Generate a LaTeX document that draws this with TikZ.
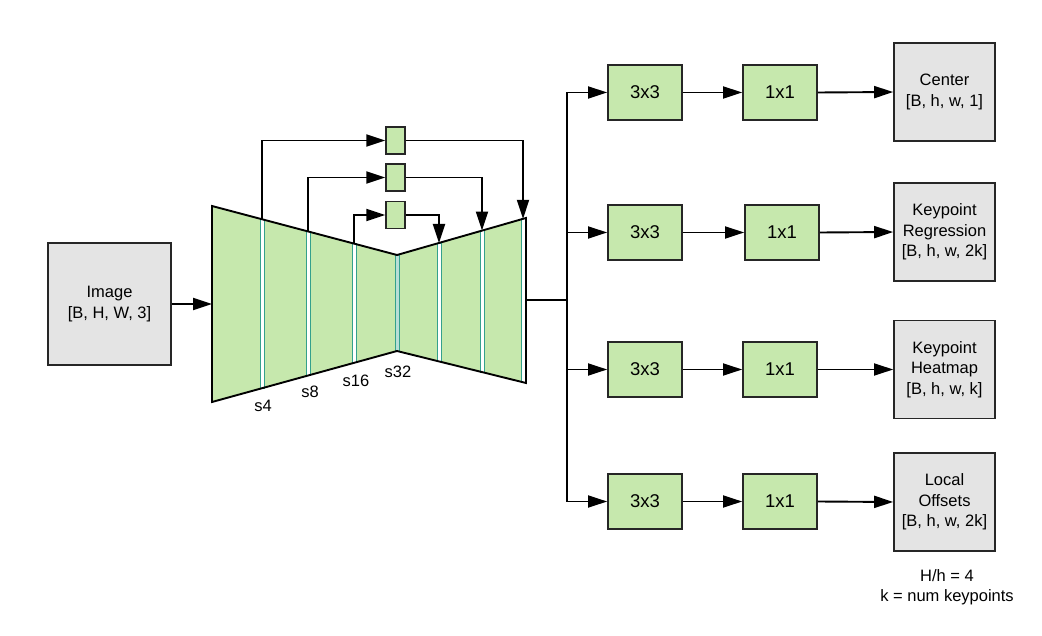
\documentclass[tikz,border=0pt]{standalone}
\usepackage{fontspec}
\setmainfont{Liberation Sans}
\usetikzlibrary{arrows.meta}
\definecolor{boxgreen}{RGB}{198,232,173}
\definecolor{boxgray}{RGB}{228,228,228}
\definecolor{barteal}{RGB}{52,160,140}
\begin{document}
\begin{tikzpicture}[x=1pt,y=-1pt,
  txt/.style={font=\fontsize{16.5}{20.5}\selectfont,align=center},
  gbox/.style={draw=black!85,line width=1.7pt,fill=boxgreen,minimum width=74pt,minimum height=55pt,inner sep=0pt,font=\fontsize{18.5}{22}\selectfont},
  sbox/.style={draw=black!85,line width=1.4pt,fill=boxgreen,minimum width=19pt,minimum height=27pt,inner sep=0pt},
  obox/.style={draw=black!85,line width=1.7pt,fill=boxgray,minimum width=101pt,minimum height=98pt,inner sep=0pt,txt},
  conn/.style={line width=1.9pt,-{Triangle[length=19pt,width=12pt]}},
  plain/.style={line width=1.9pt},
  bar/.style={draw=barteal,line width=0.9pt,fill=white},
  slab/.style={font=\fontsize{16.5}{20}\selectfont,inner sep=0pt}]
\useasboundingbox (0,0) rectangle (1042,636);

% image
\node[obox,minimum width=123pt,minimum height=122pt] (img) at (109.5,304) {Image\\{[B, H, W, 3]}};

% encoder-decoder body
\fill[boxgreen] (212,206) -- (397,255) -- (526,218) -- (526,383) -- (397,351) -- (212,402) -- cycle;
% bars
\draw[bar] (260,219.2) rectangle (264,388.2);
\draw[bar] (306,231.4) rectangle (310,375.5);
\draw[bar] (352,243.6) rectangle (356,362.9);
\draw[bar,fill=barteal!35!white] (395,255) rectangle (399,351);
\draw[bar] (437,243) rectangle (441,361.4);
\draw[bar] (480,230.6) rectangle (484,372.1);
\draw[bar] (521,218.9) rectangle (525,382.3);
\draw[line width=1.9pt,line join=miter] (212,206) -- (397,255) -- (526,218) -- (526,383) -- (397,351) -- (212,402) -- cycle;

\coordinate (s4t) at (262,219.2);
\coordinate (s8t) at (308,231.4);
\coordinate (s16t) at (354,243.6);
\coordinate (d1t) at (439,243);
\coordinate (d2t) at (482,230.6);
\coordinate (d3t) at (523,218.9);
\coordinate (encin) at (212,304);
\coordinate (encout) at (526,300);
\coordinate (split) at (567,300);

% stride labels
\node[slab] (l4) at (263,406) {s4};
\node[slab] (l8) at (310,392) {s8};
\node[slab] (l16) at (356,381) {s16};
\node[slab] (l32) at (398,372) {s32};

% skip boxes
\node[sbox] (k1) at (395.5,140.5) {};
\node[sbox] (k2) at (395.5,177.5) {};
\node[sbox] (k3) at (395.5,215) {};

\draw[conn] (s4t) |- (k1.west);
\draw[conn] (k1.east) -| (d3t);
\draw[conn] (s8t) |- (k2.west);
\draw[conn] (k2.east) -| (d2t);
\draw[conn] (s16t) |- (k3.west);
\draw[conn] (k3.east) -| (d1t);

% input arrow
\draw[conn] (img.east) -- (encin);

% heads
\node[gbox] (a1) at (645,92.5) {3x3};
\node[gbox] (b1) at (780,92.5) {1x1};
\node[obox] (o1) at (944.5,92) {Center\\{[B, h, w, 1]}};
\node[gbox] (a2) at (645,232.5) {3x3};
\node[gbox] (b2) at (782,232.5) {1x1};
\node[obox] (o2) at (944.5,232) {Keypoint\\Regression\\{[B, h, w, 2k]}};
\node[gbox] (a3) at (645,369.5) {3x3};
\node[gbox] (b3) at (780,369.5) {1x1};
\node[obox] (o3) at (944.5,369.5) {Keypoint\\Heatmap\\{[B, h, w, k]}};
\node[gbox] (a4) at (645,501.5) {3x3};
\node[gbox] (b4) at (780,501.5) {1x1};
\node[obox] (o4) at (944.5,502) {Local\\Offsets\\{[B, h, w, 2k]}};

\draw[plain] (encout) -- (split);
\draw[conn] (split) |- (a1.west);
\draw[conn] (split) |- (a2.west);
\draw[conn] (split) |- (a3.west);
\draw[conn] (split) |- (a4.west);
\foreach \i in {1,2,3,4} {
  \draw[conn] (a\i.east) -- (b\i.west);
  \draw[conn] (b\i.east) -- (o\i.west);
}

% notes
\node[txt] (note) at (947,587) {H/h = 4\\k = num keypoints};
\end{tikzpicture}
\end{document}
